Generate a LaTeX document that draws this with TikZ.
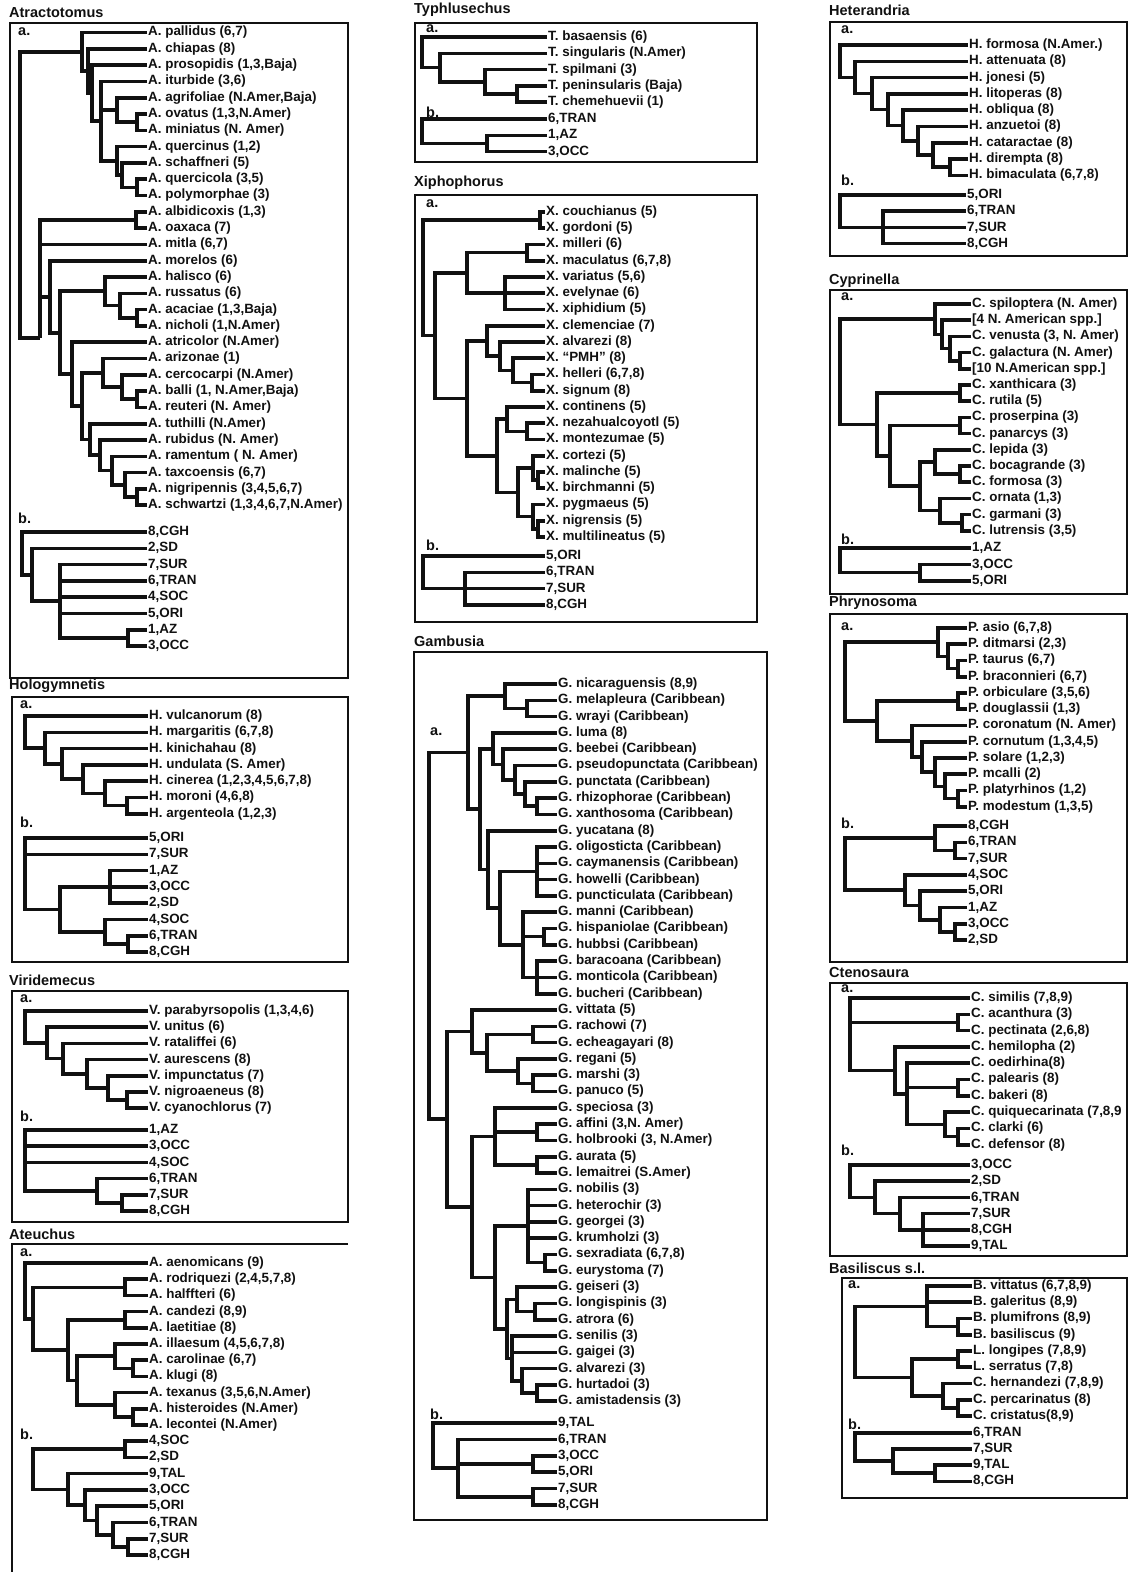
\documentclass[tikz,border=0pt]{standalone}
\usepackage{fontspec}
\setmainfont{Liberation Sans}
\usepackage{tikz}
\usetikzlibrary{calc}

\definecolor{ink}{RGB}{17, 17, 17}

\tikzset{
  taxon/.style={anchor=west, inner sep=1pt, text=ink, font=\bfseries\fontsize{13.4}{15}\selectfont},
  title/.style={anchor=west, inner sep=0pt, text=ink, font=\bfseries\fontsize{14.5}{16}\selectfont},
  part/.style={anchor=west, inner sep=0pt, text=ink, font=\bfseries\fontsize{14.5}{16}\selectfont},
  branch/.style={draw=ink, line width=3.6pt},
  frame/.style={draw=ink, line width=1.1pt}
}

% a column of names: prefix, x, first row, row step, names
\newcommand{\taxa}[5]{
  \foreach \tx [count=\nn] in {#5} { \node[taxon] (#1\nn) at (#2, {#3 + #4 * (\nn - 1)}) {\tx}; }
}
% a fork at x, halfway between its first and last child
\newcommand{\clade}[4]{
  \path let \p1 = (#3), \p2 = (#4) in (#2, {(\y1 + \y2) / 2}) coordinate (#1);
}
\newcommand{\joins}[1]{
  \foreach \ch/\pa in {#1} { \draw[branch] (\ch) -| (\pa); }
}

\begin{document}
\begin{tikzpicture}[x=1pt, y=-1pt]

  \fill[white] (0, 0) rectangle (1128, 1572);
  \useasboundingbox (0, 0) rectangle (1128, 1572);

  %%% left column

  \node[title] (tAtr) at (9, 13) {Atractotomus};
  \draw[frame] (10, 23) rectangle (348, 678);
  \node[part] (atLa) at (18, 32) {a.};
  \node[part] (atLb) at (18, 518) {b.};

  \taxa{at}{147}{32.5}{16.3}{{A. pallidus (6,7)}, {A. chiapas (8)}, {A. prosopidis (1,3,Baja)},
    {A. iturbide (3,6)}, {A. agrifoliae (N.Amer,Baja)}, {A. ovatus (1,3,N.Amer)}, {A. miniatus (N. Amer)},
    {A. quercinus (1,2)}, {A. schaffneri (5)}, {A. quercicola (3,5)}, {A. polymorphae (3)},
    {A. albidicoxis (1,3)}, {A. oaxaca (7)}, {A. mitla (6,7)}, {A. morelos (6)}, {A. halisco (6)},
    {A. russatus (6)}, {A. acaciae (1,3,Baja)}, {A. nicholi (1,N.Amer)}, {A. atricolor (N.Amer)},
    {A. arizonae (1)}, {A. cercocarpi (N.Amer)}, {A. balli (1, N.Amer,Baja)}, {A. reuteri (N. Amer)},
    {A. tuthilli (N.Amer)}, {A. rubidus (N. Amer)}, {A. ramentum ( N. Amer)}, {A. taxcoensis (6,7)},
    {A. nigripennis (3,4,5,6,7)}, {A. schwartzi (1,3,4,6,7,N.Amer)}}
  \clade{atP67}{137}{at6}{at7}
  \clade{atE5}{117}{at5}{atP67}
  \clade{atP1011}{137}{at10}{at11}
  \clade{atE7}{122}{at9}{atP1011}
  \clade{atE6}{117}{at8}{atE7}
  \clade{atA4}{101}{at4}{atE6}
  \clade{atA3}{92}{at3}{atA4}
  \clade{atA2}{88}{at2}{atA3}
  \clade{atA}{82}{at1}{atA2}
  \clade{atP1213}{136}{at12}{at13}
  \clade{atP1819}{137}{at18}{at19}
  \clade{atE2}{120}{at17}{atP1819}
  \clade{atE}{105}{at16}{atE2}
  \clade{atP2324}{137}{at23}{at24}
  \clade{atG2}{122}{at22}{atP2324}
  \clade{atG}{103}{at21}{atG2}
  \clade{atP2930}{137}{at29}{at30}
  \clade{atH4}{125}{at28}{atP2930}
  \clade{atH3}{112}{at27}{atH4}
  \clade{atH2}{100}{at26}{atH3}
  \clade{atH}{90}{at25}{atH2}
  \clade{atF2}{82}{atG}{atH}
  \clade{atF}{72}{at20}{atF2}
  \clade{atD}{60}{atE}{atF}
  \clade{atC}{50}{at15}{atD}
  \coordinate (atB) at (40, 338);
  \clade{atR}{20}{atA}{atB}
  \joins{at1.west/atA, atA2/atA, at2.west/atA2, atA3/atA2, at3.west/atA3, atA4/atA3,
    at4.west/atA4, atE5/atA4, atE6/atA4, at5.west/atE5, atP67/atE5, at6.west/atP67, at7.west/atP67,
    at8.west/atE6, atE7/atE6, at9.west/atE7, atP1011/atE7, at10.west/atP1011, at11.west/atP1011,
    at12.west/atP1213, at13.west/atP1213, atP1213/atB, at14.west/atB, atC/atB,
    at15.west/atC, atD/atC, atE/atD, atF/atD,
    at16.west/atE, atE2/atE, at17.west/atE2, atP1819/atE2, at18.west/atP1819, at19.west/atP1819,
    at20.west/atF, atF2/atF, atG/atF2, atH/atF2,
    at21.west/atG, atG2/atG, at22.west/atG2, atP2324/atG2, at23.west/atP2324, at24.west/atP2324,
    at25.west/atH, atH2/atH, at26.west/atH2, atH3/atH2, at27.west/atH3, atH4/atH3,
    at28.west/atH4, atP2930/atH4, at29.west/atP2930, at30.west/atP2930, atA/atR, atB/atR}

  \taxa{ab}{147}{532}{16.3}{{8,CGH}, {2,SD}, {7,SUR}, {6,TRAN}, {4,SOC}, {5,ORI}, {1,AZ}, {3,OCC}}
  \clade{abP}{128}{ab7}{ab8}
  \clade{abC}{60}{ab3}{abP}
  \clade{abB}{32}{ab2}{abC}
  \clade{abR}{22}{ab1}{abB}
  \joins{ab1.west/abR, abB/abR, ab2.west/abB, abC/abB, ab3.west/abC, ab4.west/abC, ab5.west/abC,
    ab6.west/abC, abP/abC, ab7.west/abP, ab8.west/abP}

  \node[title] (tHol) at (9, 686) {Hologymnetis};
  \draw[frame] (12, 697) rectangle (348, 962);
  \node[part] (hoLa) at (20, 705) {a.};
  \node[part] (hoLb) at (20, 822) {b.};

  \taxa{ho}{148}{716}{16.3}{{H. vulcanorum (8)}, {H. margaritis (6,7,8)}, {H. kinichahau (8)},
    {H. undulata (S. Amer)}, {H. cinerea (1,2,3,4,5,6,7,8)}, {H. moroni (4,6,8)}, {H. argenteola (1,2,3)}}
  \clade{honP}{127}{ho6}{ho7}
  \clade{hon5}{105}{ho5}{honP}
  \clade{hon4}{83}{ho4}{hon5}
  \clade{hon3}{62}{ho3}{hon4}
  \clade{hon2}{45}{ho2}{hon3}
  \clade{honR}{25}{ho1}{hon2}
  \joins{ho1.west/honR, hon2/honR, ho2.west/hon2, hon3/hon2, ho3.west/hon3, hon4/hon3,
    ho4.west/hon4, hon5/hon4, ho5.west/hon5, honP/hon5, ho6.west/honP, ho7.west/honP}

  \taxa{hb}{148}{838}{16.3}{{5,ORI}, {7,SUR}, {1,AZ}, {3,OCC}, {2,SD}, {4,SOC}, {6,TRAN}, {8,CGH}}
  \clade{hbnY}{110}{hb3}{hb5}
  \clade{hbnP}{128}{hb7}{hb8}
  \clade{hbnZ}{105}{hb6}{hbnP}
  \clade{hbnX}{60}{hbnY}{hbnZ}
  \clade{hbnR}{25}{hb1}{hbnX}
  \joins{hb1.west/hbnR, hb2.west/hbnR, hbnX/hbnR, hbnY/hbnX, hbnZ/hbnX, hb3.west/hbnY,
    hb4.west/hbnY, hb5.west/hbnY, hb6.west/hbnZ, hbnP/hbnZ, hb7.west/hbnP, hb8.west/hbnP}

  \node[title] (tVir) at (9, 980) {Viridemecus};
  \draw[frame] (12, 991) rectangle (348, 1222);
  \node[part] (viLa) at (20, 999) {a.};
  \node[part] (viLb) at (20, 1116) {b.};

  \taxa{vi}{148}{1011}{16.2}{{V. parabyrsopolis (1,3,4,6)}, {V. unitus (6)}, {V. rataliffei (6)},
    {V. aurescens (8)}, {V. impunctatus (7)}, {V. nigroaeneus (8)}, {V. cyanochlorus (7)}}
  \clade{vinP}{127}{vi6}{vi7}
  \clade{vin5}{108}{vi5}{vinP}
  \clade{vin4}{87}{vi4}{vin5}
  \clade{vin3}{63}{vi3}{vin4}
  \clade{vin2}{47}{vi2}{vin3}
  \clade{vinR}{25}{vi1}{vin2}
  \joins{vi1.west/vinR, vin2/vinR, vi2.west/vin2, vin3/vin2, vi3.west/vin3, vin4/vin3,
    vi4.west/vin4, vin5/vin4, vi5.west/vin5, vinP/vin5, vi6.west/vinP, vi7.west/vinP}

  \taxa{vb}{148}{1130}{16.2}{{1,AZ}, {3,OCC}, {4,SOC}, {6,TRAN}, {7,SUR}, {8,CGH}}
  \clade{vbnP}{122}{vb5}{vb6}
  \clade{vbnX}{97}{vb4}{vbnP}
  \clade{vbnR}{25}{vb1}{vbnX}
  \joins{vb1.west/vbnR, vb2.west/vbnR, vb3.west/vbnR, vbnX/vbnR, vb4.west/vbnX, vbnP/vbnX,
    vb5.west/vbnP, vb6.west/vbnP}

  \node[title] (tAte) at (9, 1234) {Ateuchus};
  \draw[frame] (348, 1244) -- (12, 1244) -- (12, 1572);
  \node[part] (auLa) at (20, 1253) {a.};
  \node[part] (auLb) at (20, 1434) {b.};

  \taxa{au}{148}{1263}{16.2}{{A. aenomicans (9)}, {A. rodriquezi (2,4,5,7,8)}, {A. halffteri (6)},
    {A. candezi (8,9)}, {A. laetitiae (8)}, {A. illaesum (4,5,6,7,8)}, {A. carolinae (6,7)},
    {A. klugi (8)}, {A. texanus (3,5,6,N.Amer)}, {A. histeroides (N.Amer)}, {A. lecontei (N.Amer)}}
  \clade{aunP23}{125}{au2}{au3}
  \clade{aunP45}{125}{au4}{au5}
  \clade{aunP78}{133}{au7}{au8}
  \clade{aun5}{115}{au6}{aunP78}
  \clade{aunP1011}{133}{au10}{au11}
  \clade{aun6}{115}{au9}{aunP1011}
  \clade{aun4}{77}{aun5}{aun6}
  \clade{aun3}{68}{aunP45}{aun4}
  \clade{aun2}{33}{aunP23}{aun3}
  \clade{aunR}{25}{au1}{aun2}
  \joins{au1.west/aunR, aun2/aunR, aunP23/aun2, aun3/aun2, au2.west/aunP23, au3.west/aunP23,
    aunP45/aun3, aun4/aun3, au4.west/aunP45, au5.west/aunP45, aun5/aun4, aun6/aun4,
    au6.west/aun5, aunP78/aun5, au7.west/aunP78, au8.west/aunP78,
    au9.west/aun6, aunP1011/aun6, au10.west/aunP1011, au11.west/aunP1011}

  \taxa{ub}{148}{1441}{16.3}{{4,SOC}, {2,SD}, {9,TAL}, {3,OCC}, {5,ORI}, {6,TRAN}, {7,SUR}, {8,CGH}}
  \clade{ubnP12}{125}{ub1}{ub2}
  \clade{ubnP78}{128}{ub7}{ub8}
  \clade{ubn5}{113}{ub6}{ubnP78}
  \clade{ubn4}{97}{ub5}{ubn5}
  \clade{ubn3}{85}{ub4}{ubn4}
  \clade{ubn2}{68}{ub3}{ubn3}
  \clade{ubnR}{33}{ubnP12}{ubn2}
  \joins{ubnP12/ubnR, ubn2/ubnR, ub1.west/ubnP12, ub2.west/ubnP12, ub3.west/ubn2, ubn3/ubn2,
    ub4.west/ubn3, ubn4/ubn3, ub5.west/ubn4, ubn5/ubn4, ub6.west/ubn5, ubnP78/ubn5,
    ub7.west/ubnP78, ub8.west/ubnP78}

  %%% middle column

  \node[title] (tTyp) at (414, 10) {Typhlusechus};
  \draw[frame] (415, 23) rectangle (757, 162);
  \node[part] (tyLa) at (426, 29) {a.};
  \node[part] (tyLb) at (426, 112) {b.};

  \taxa{ty}{547}{37}{16.3}{{T. basaensis (6)}, {T. singularis (N.Amer)}, {T. spilmani (3)},
    {T. peninsularis (Baja)}, {T. chemehuevii (1)}}
  \clade{tynP}{517}{ty4}{ty5}
  \clade{tyn3}{485}{ty3}{tynP}
  \clade{tyn2}{440}{ty2}{tyn3}
  \clade{tynR}{422}{ty1}{tyn2}
  \joins{ty1.west/tynR, tyn2/tynR, ty2.west/tyn2, tyn3/tyn2, ty3.west/tyn3, tynP/tyn3,
    ty4.west/tynP, ty5.west/tynP}

  \taxa{tb}{547}{119}{16.3}{{6,TRAN}, {1,AZ}, {3,OCC}}
  \clade{tbnP}{487}{tb2}{tb3}
  \clade{tbnR}{422}{tb1}{tbnP}
  \joins{tb1.west/tbnR, tbnP/tbnR, tb2.west/tbnP, tb3.west/tbnP}

  \node[title] (tXip) at (414, 183) {Xiphophorus};
  \draw[frame] (415, 195) rectangle (757, 622);
  \node[part] (xiLa) at (426, 204) {a.};
  \node[part] (xiLb) at (426, 545) {b.};

  \taxa{xi}{545}{212}{16.25}{{X. couchianus (5)}, {X. gordoni (5)}, {X. milleri (6)},
    {X. maculatus (6,7,8)}, {X. variatus (5,6)}, {X. evelynae (6)}, {X. xiphidium (5)},
    {X. clemenciae (7)}, {X. alvarezi (8)}, {X. ``PMH'' (8)}, {X. helleri (6,7,8)}, {X. signum (8)},
    {X. continens (5)}, {X. nezahualcoyotl (5)}, {X. montezumae (5)}, {X. cortezi (5)},
    {X. malinche (5)}, {X. birchmanni (5)}, {X. pygmaeus (5)}, {X. nigrensis (5)},
    {X. multilineatus (5)}}
  \clade{xinP12}{540}{xi1}{xi2}
  \clade{xinP34}{527}{xi3}{xi4}
  \clade{xinT567}{505}{xi5}{xi7}
  \clade{xin3}{467}{xinP34}{xinT567}
  \clade{xinP1112}{532}{xi11}{xi12}
  \clade{xin8}{513}{xi10}{xinP1112}
  \clade{xin7}{500}{xi9}{xin8}
  \clade{xin5}{487}{xi8}{xin7}
  \clade{xinP1415}{527}{xi14}{xi15}
  \clade{xin9}{507}{xi13}{xinP1415}
  \clade{xinP1718}{538}{xi17}{xi18}
  \clade{xin11}{533}{xi16}{xinP1718}
  \clade{xinP2021}{538}{xi20}{xi21}
  \clade{xin12}{533}{xi19}{xinP2021}
  \clade{xin10}{518}{xin11}{xin12}
  \clade{xin6}{497}{xin9}{xin10}
  \clade{xin4}{467}{xin5}{xin6}
  \clade{xin2}{435}{xin3}{xin4}
  \clade{xinR}{423}{xinP12}{xin2}
  \joins{xinP12/xinR, xin2/xinR, xi1.west/xinP12, xi2.west/xinP12, xin3/xin2, xin4/xin2,
    xinP34/xin3, xinT567/xin3, xi3.west/xinP34, xi4.west/xinP34,
    xi5.west/xinT567, xi6.west/xinT567, xi7.west/xinT567, xin5/xin4, xin6/xin4,
    xi8.west/xin5, xin7/xin5, xi9.west/xin7, xin8/xin7, xi10.west/xin8, xinP1112/xin8,
    xi11.west/xinP1112, xi12.west/xinP1112, xin9/xin6, xin10/xin6,
    xi13.west/xin9, xinP1415/xin9, xi14.west/xinP1415, xi15.west/xinP1415,
    xin11/xin10, xin12/xin10, xi16.west/xin11, xinP1718/xin11, xi17.west/xinP1718, xi18.west/xinP1718,
    xi19.west/xin12, xinP2021/xin12, xi20.west/xinP2021, xi21.west/xinP2021}

  \taxa{xb}{545}{556}{16.3}{{5,ORI}, {6,TRAN}, {7,SUR}, {8,CGH}}
  \clade{xbnT}{465}{xb2}{xb4}
  \clade{xbnR}{423}{xb1}{xbnT}
  \joins{xb1.west/xbnR, xbnT/xbnR, xb2.west/xbnT, xb3.west/xbnT, xb4.west/xbnT}

  \node[title] (tGam) at (414, 641) {Gambusia};
  \draw[frame] (414, 652) rectangle (767, 1520);
  \node[part] (gaLa) at (430, 732) {a.};
  \node[part] (gaLb) at (430, 1414) {b.};

  \taxa{ga}{557}{684}{16.3}{{G. nicaraguensis (8,9)}, {G. melapleura (Caribbean)}, {G. wrayi (Caribbean)},
    {G. luma (8)}, {G. beebei (Caribbean)}, {G. pseudopunctata (Caribbean)}, {G. punctata (Caribbean)},
    {G. rhizophorae (Caribbean)}, {G. xanthosoma (Caribbean)}, {G. yucatana (8)},
    {G. oligosticta (Caribbean)}, {G. caymanensis (Caribbean)}, {G. howelli (Caribbean)},
    {G. puncticulata (Caribbean)}, {G. manni (Caribbean)}, {G. hispaniolae (Caribbean)},
    {G. hubbsi (Caribbean)}, {G. baracoana (Caribbean)}, {G. monticola (Caribbean)},
    {G. bucheri (Caribbean)}, {G. vittata (5)}, {G. rachowi (7)}, {G. echeagayari (8)},
    {G. regani (5)}, {G. marshi (3)}, {G. panuco (5)}, {G. speciosa (3)}, {G. affini (3,N. Amer)},
    {G. holbrooki (3, N.Amer)}, {G. aurata (5)}, {G. lemaitrei (S.Amer)}, {G. nobilis (3)},
    {G. heterochir (3)}, {G. georgei (3)}, {G. krumholzi (3)}, {G. sexradiata (6,7,8)},
    {G. eurystoma (7)}, {G. geiseri (3)}, {G. longispinis (3)}, {G. atrora (6)}, {G. senilis (3)},
    {G. gaigei (3)}, {G. alvarezi (3)}, {G. hurtadoi (3)}, {G. amistadensis (3)}}
  \clade{ganP23}{527}{ga2}{ga3}
  \clade{gan1}{505}{ga1}{ganP23}
  \clade{ganP89}{537}{ga8}{ga9}
  \clade{gan7}{525}{ga7}{ganP89}
  \clade{gan6}{515}{ga6}{gan7}
  \clade{gan5}{503}{ga5}{gan6}
  \clade{gan3}{493}{ga4}{gan5}
  \clade{gan9}{537}{ga11}{ga14}
  \clade{ganP1617}{544}{ga16}{ga17}
  \clade{ganT}{537}{ga18}{ga20}
  \clade{gan10}{523}{ga15}{ganT}
  \clade{gan8}{500}{gan9}{gan10}
  \clade{gan4}{488}{ga10}{gan8}
  \clade{gan2}{480}{gan3}{gan4}
  \clade{ganA}{468}{gan1}{gan2}
  \clade{ganP2223}{533}{ga22}{ga23}
  \clade{ganP2526}{533}{ga25}{ga26}
  \clade{gan14}{518}{ga24}{ganP2526}
  \clade{gan13}{487}{ganP2223}{gan14}
  \clade{gan11}{472}{ga21}{gan13}
  \clade{ganP2829}{537}{ga28}{ga29}
  \clade{ganP3031}{537}{ga30}{ga31}
  \clade{gan15}{495}{ga27}{ganP3031}
  \clade{ganP3637}{545}{ga36}{ga37}
  \clade{gan17}{528}{ga32}{ganP3637}
  \clade{ganP3940}{535}{ga39}{ga40}
  \clade{gan19}{517}{ga38}{ganP3940}
  \clade{ganP4445}{537}{ga44}{ga45}
  \clade{gan21}{522}{ga43}{ganP4445}
  \clade{gan20}{512}{ga41}{gan21}
  \clade{gan18}{507}{gan19}{gan20}
  \clade{gan16}{495}{gan17}{gan18}
  \clade{gan12}{472}{gan15}{gan16}
  \clade{ganB}{447}{gan11}{gan12}
  \clade{ganR}{429}{ganA}{ganB}
  \joins{ganA/ganR, ganB/ganR, gan1/ganA, gan2/ganA, ga1.west/gan1, ganP23/gan1,
    ga2.west/ganP23, ga3.west/ganP23, gan3/gan2, gan4/gan2, ga4.west/gan3, gan5/gan3,
    ga5.west/gan5, gan6/gan5, ga6.west/gan6, gan7/gan6, ga7.west/gan7, ganP89/gan7,
    ga8.west/ganP89, ga9.west/ganP89, ga10.west/gan4, gan8/gan4, gan9/gan8, gan10/gan8,
    ga11.west/gan9, ga12.west/gan9, ga13.west/gan9, ga14.west/gan9, ga15.west/gan10,
    ganP1617/gan10, ganT/gan10, ga16.west/ganP1617, ga17.west/ganP1617,
    ga18.west/ganT, ga19.west/ganT, ga20.west/ganT,
    gan11/ganB, gan12/ganB, ga21.west/gan11, gan13/gan11, ganP2223/gan13, gan14/gan13,
    ga22.west/ganP2223, ga23.west/ganP2223, ga24.west/gan14, ganP2526/gan14,
    ga25.west/ganP2526, ga26.west/ganP2526,
    gan15/gan12, gan16/gan12, ga27.west/gan15, ganP2829/gan15, ganP3031/gan15,
    ga28.west/ganP2829, ga29.west/ganP2829, ga30.west/ganP3031, ga31.west/ganP3031,
    gan17/gan16, gan18/gan16, ga32.west/gan17, ga33.west/gan17, ga34.west/gan17,
    ga35.west/gan17, ganP3637/gan17, ga36.west/ganP3637, ga37.west/ganP3637,
    gan19/gan18, gan20/gan18, ga38.west/gan19, ganP3940/gan19, ga39.west/ganP3940,
    ga40.west/ganP3940, ga41.west/gan20, ga42.west/gan20, gan21/gan20, ga43.west/gan21,
    ganP4445/gan21, ga44.west/ganP4445, ga45.west/ganP4445}

  \taxa{gb}{557}{1423}{16.4}{{9,TAL}, {6,TRAN}, {3,OCC}, {5,ORI}, {7,SUR}, {8,CGH}}
  \clade{gbnP34}{533}{gb3}{gb4}
  \clade{gbnP56}{533}{gb5}{gb6}
  \clade{gbn2}{458}{gb2}{gbnP56}
  \clade{gbnR}{433}{gb1}{gbn2}
  \joins{gb1.west/gbnR, gbn2/gbnR, gb2.west/gbn2, gbnP34/gbn2, gbnP56/gbn2,
    gb3.west/gbnP34, gb4.west/gbnP34, gb5.west/gbnP56, gb6.west/gbnP56}

  %%% right column

  \node[title] (tHet) at (829, 10) {Heterandria};
  \draw[frame] (830, 22) rectangle (1127, 256);
  \node[part] (heLa) at (841, 30) {a.};
  \node[part] (heLb) at (841, 180) {b.};

  \taxa{he}{968}{45}{16.3}{{H. formosa (N.Amer.)}, {H. attenuata (8)}, {H. jonesi (5)},
    {H. litoperas (8)}, {H. obliqua (8)}, {H. anzuetoi (8)}, {H. cataractae (8)},
    {H. dirempta (8)}, {H. bimaculata (6,7,8)}}
  \clade{henP}{950}{he8}{he9}
  \clade{hen7}{933}{he7}{henP}
  \clade{hen6}{918}{he6}{hen7}
  \clade{hen5}{903}{he5}{hen6}
  \clade{hen4}{888}{he4}{hen5}
  \clade{hen3}{872}{he3}{hen4}
  \clade{hen2}{855}{he2}{hen3}
  \clade{henR}{840}{he1}{hen2}
  \joins{he1.west/henR, hen2/henR, he2.west/hen2, hen3/hen2, he3.west/hen3, hen4/hen3,
    he4.west/hen4, hen5/hen4, he5.west/hen5, hen6/hen5, he6.west/hen6, hen7/hen6,
    he7.west/hen7, henP/hen7, he8.west/henP, he9.west/henP}

  \taxa{hf}{966}{195}{16.2}{{5,ORI}, {6,TRAN}, {7,SUR}, {8,CGH}}
  \clade{hfnT}{883}{hf2}{hf4}
  \clade{hfnR}{840}{hf1}{hfnT}
  \joins{hf1.west/hfnR, hfnT/hfnR, hf2.west/hfnT, hf3.west/hfnT, hf4.west/hfnT}

  \node[title] (tCyp) at (829, 281) {Cyprinella};
  \draw[frame] (830, 290) rectangle (1127, 594);
  \node[part] (cyLa) at (841, 297) {a.};
  \node[part] (cyLb) at (841, 539) {b.};

  \taxa{cy}{971}{304}{16.2}{{C. spiloptera (N. Amer)}, {[4 N. American spp.]}, {C. venusta (3, N. Amer)},
    {C. galactura (N. Amer)}, {[10 N.American spp.]}, {C. xanthicara (3)}, {C. rutila (5)},
    {C. proserpina (3)}, {C. panarcys (3)}, {C. lepida (3)}, {C. bocagrande (3)}, {C. formosa (3)},
    {C. ornata (1,3)}, {C. garmani (3)}, {C. lutrensis (3,5)}}
  \clade{cynP45}{960}{cy4}{cy5}
  \clade{cyn4}{950}{cy3}{cynP45}
  \clade{cyn3}{942}{cy2}{cyn4}
  \clade{cyn1}{935}{cy1}{cyn3}
  \clade{cynP67}{960}{cy6}{cy7}
  \clade{cynP89}{960}{cy8}{cy9}
  \clade{cynP1112}{960}{cy11}{cy12}
  \clade{cyn7}{935}{cy10}{cynP1112}
  \clade{cynP1415}{962}{cy14}{cy15}
  \clade{cyn8}{940}{cy13}{cynP1415}
  \clade{cyn6}{920}{cyn7}{cyn8}
  \clade{cyn5}{890}{cynP89}{cyn6}
  \clade{cyn2}{877}{cynP67}{cyn5}
  \clade{cynR}{840}{cyn1}{cyn2}
  \joins{cyn1/cynR, cyn2/cynR, cy1.west/cyn1, cyn3/cyn1, cy2.west/cyn3, cyn4/cyn3,
    cy3.west/cyn4, cynP45/cyn4, cy4.west/cynP45, cy5.west/cynP45, cynP67/cyn2, cyn5/cyn2,
    cy6.west/cynP67, cy7.west/cynP67, cynP89/cyn5, cyn6/cyn5, cy8.west/cynP89, cy9.west/cynP89,
    cyn7/cyn6, cyn8/cyn6, cy10.west/cyn7, cynP1112/cyn7, cy11.west/cynP1112, cy12.west/cynP1112,
    cy13.west/cyn8, cynP1415/cyn8, cy14.west/cynP1415, cy15.west/cynP1415}

  \taxa{cb}{971}{548}{16.4}{{1,AZ}, {3,OCC}, {5,ORI}}
  \clade{cbnP}{920}{cb2}{cb3}
  \clade{cbnR}{840}{cb1}{cbnP}
  \joins{cb1.west/cbnR, cbnP/cbnR, cb2.west/cbnP, cb3.west/cbnP}

  \node[title] (tPhr) at (829, 603) {Phrynosoma};
  \draw[frame] (830, 614) rectangle (1127, 962);
  \node[part] (phLa) at (841, 627) {a.};
  \node[part] (phLb) at (841, 823) {b.};

  \taxa{ph}{967}{628}{16.25}{{P. asio (6,7,8)}, {P. ditmarsi (2,3)}, {P. taurus (6,7)},
    {P. braconnieri (6,7)}, {P. orbiculare (3,5,6)}, {P. douglassii (1,3)}, {P. coronatum (N. Amer)},
    {P. cornutum (1,3,4,5)}, {P. solare (1,2,3)}, {P. mcalli (2)}, {P. platyrhinos (1,2)},
    {P. modestum (1,3,5)}}
  \clade{phnP34}{958}{ph3}{ph4}
  \clade{phn3}{948}{ph2}{phnP34}
  \clade{phn1}{938}{ph1}{phn3}
  \clade{phnP56}{958}{ph5}{ph6}
  \clade{phnP1112}{958}{ph11}{ph12}
  \clade{phn7}{945}{ph10}{phnP1112}
  \clade{phn6}{935}{ph9}{phn7}
  \clade{phn5}{922}{ph8}{phn6}
  \clade{phn4}{912}{ph7}{phn5}
  \clade{phn2}{877}{phnP56}{phn4}
  \clade{phnR}{845}{phn1}{phn2}
  \joins{phn1/phnR, phn2/phnR, ph1.west/phn1, phn3/phn1, ph2.west/phn3, phnP34/phn3,
    ph3.west/phnP34, ph4.west/phnP34, phnP56/phn2, phn4/phn2, ph5.west/phnP56, ph6.west/phnP56,
    ph7.west/phn4, phn5/phn4, ph8.west/phn5, phn6/phn5, ph9.west/phn6, phn7/phn6,
    ph10.west/phn7, phnP1112/phn7, ph11.west/phnP1112, ph12.west/phnP1112}

  \taxa{pb}{967}{826}{16.3}{{8,CGH}, {6,TRAN}, {7,SUR}, {4,SOC}, {5,ORI}, {1,AZ}, {3,OCC}, {2,SD}}
  \clade{pbnP23}{955}{pb2}{pb3}
  \clade{pbn1}{935}{pb1}{pbnP23}
  \clade{pbnP78}{955}{pb7}{pb8}
  \clade{pbn4}{940}{pb6}{pbnP78}
  \clade{pbn3}{920}{pb5}{pbn4}
  \clade{pbn2}{905}{pb4}{pbn3}
  \clade{pbnR}{845}{pbn1}{pbn2}
  \joins{pbn1/pbnR, pbn2/pbnR, pb1.west/pbn1, pbnP23/pbn1, pb2.west/pbnP23, pb3.west/pbnP23,
    pb4.west/pbn2, pbn3/pbn2, pb5.west/pbn3, pbn4/pbn3, pb6.west/pbn4, pbnP78/pbn4,
    pb7.west/pbnP78, pb8.west/pbnP78}

  \node[title] (tCte) at (829, 972) {Ctenosaura};
  \draw[frame] (830, 983) rectangle (1127, 1256);
  \node[part] (ctLa) at (841, 989) {a.};
  \node[part] (ctLb) at (841, 1150) {b.};

  \taxa{ct}{970}{998}{16.3}{{C. similis (7,8,9)}, {C. acanthura (3)}, {C. pectinata (2,6,8)},
    {C. hemilopha (2)}, {C. oedirhina(8)}, {C. palearis (8)}, {C. bakeri (8)},
    {C. quiquecarinata (7,8,9}, {C. clarki (6)}, {C. defensor (8)}}
  \clade{ctnP23}{958}{ct2}{ct3}
  \clade{ctnP67}{958}{ct6}{ct7}
  \clade{ctnP910}{958}{ct9}{ct10}
  \clade{ctn3}{945}{ct8}{ctnP910}
  \clade{ctn2}{907}{ct5}{ctn3}
  \clade{ctn1}{895}{ct4}{ctn2}
  \clade{ctnR}{850}{ct1}{ctn1}
  \joins{ct1.west/ctnR, ctnP23/ctnR, ctn1/ctnR, ct2.west/ctnP23, ct3.west/ctnP23,
    ct4.west/ctn1, ctn2/ctn1, ct5.west/ctn2, ctnP67/ctn2, ctn3/ctn2, ct6.west/ctnP67,
    ct7.west/ctnP67, ct8.west/ctn3, ctnP910/ctn3, ct9.west/ctnP910, ct10.west/ctnP910}

  \taxa{cu}{970}{1165}{16.2}{{3,OCC}, {2,SD}, {6,TRAN}, {7,SUR}, {8,CGH}, {9,TAL}}
  \clade{cunT}{923}{cu4}{cu6}
  \clade{cun3}{900}{cu3}{cunT}
  \clade{cun2}{875}{cu2}{cun3}
  \clade{cunR}{850}{cu1}{cun2}
  \joins{cu1.west/cunR, cun2/cunR, cu2.west/cun2, cun3/cun2, cu3.west/cun3, cunT/cun3,
    cu4.west/cunT, cu5.west/cunT, cu6.west/cunT}

  \node[title] (tBas) at (829, 1268) {Basiliscus s.l.};
  \draw[frame] (842, 1278) rectangle (1127, 1498);
  \node[part] (baLa) at (848, 1285) {a.};
  \node[part] (baLb) at (848, 1424) {b.};

  \taxa{ba}{972}{1286}{16.25}{{B. vittatus (6,7,8,9)}, {B. galeritus (8,9)}, {B. plumifrons (8,9)},
    {B. basiliscus (9)}, {L. longipes (7,8,9)}, {L. serratus (7,8)}, {C. hernandezi (7,8,9)},
    {C. percarinatus (8)}, {C. cristatus(8,9)}}
  \clade{banP34}{958}{ba3}{ba4}
  \clade{ban1}{927}{ba1}{banP34}
  \clade{banP56}{958}{ba5}{ba6}
  \clade{banP89}{958}{ba8}{ba9}
  \clade{ban3}{943}{ba7}{banP89}
  \clade{ban2}{912}{banP56}{ban3}
  \clade{banR}{855}{ban1}{ban2}
  \joins{ban1/banR, ban2/banR, ba1.west/ban1, ba2.west/ban1, banP34/ban1,
    ba3.west/banP34, ba4.west/banP34, banP56/ban2, ban3/ban2, ba5.west/banP56, ba6.west/banP56,
    ba7.west/ban3, banP89/ban3, ba8.west/banP89, ba9.west/banP89}

  \taxa{bb}{972}{1433}{16.1}{{6,TRAN}, {7,SUR}, {9,TAL}, {8,CGH}}
  \clade{bbnP}{935}{bb3}{bb4}
  \clade{bbn2}{893}{bb2}{bbnP}
  \clade{bbnR}{855}{bb1}{bbn2}
  \joins{bb1.west/bbnR, bbn2/bbnR, bb2.west/bbn2, bbnP/bbn2, bb3.west/bbnP, bb4.west/bbnP}

\end{tikzpicture}
\end{document}
